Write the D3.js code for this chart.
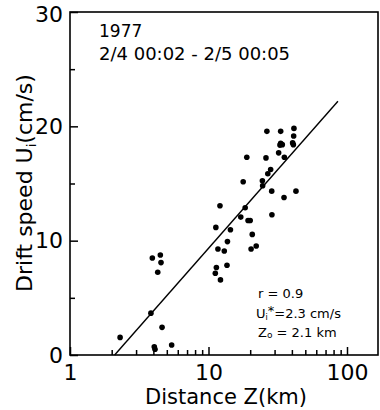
<!DOCTYPE html>
<html>
<head>
<meta charset="utf-8">
<script src="https://d3js.org/d3.v7.min.js"></script>
<style>
  body { margin: 0; background: #fff; }
  svg { display: block; font-family: "DejaVu Sans", sans-serif; }
</style>
</head>
<body>
<svg width="380" height="410"></svg>
<script>
// distance Z (km) and drift speed Ui (cm/s)
const distanceZ = [3.93, 4.49, 4.54, 4.30, 3.84, 4.62, 2.30, 5.42, 4.06, 4.11,
   12.1, 18.4, 17.1, 19.3, 20.0, 11.3, 14.4, 20.7, 13.7, 11.7,
   13.0, 20.3, 22.1, 11.4, 11.2, 12.2, 13.6, 26.4, 33.2, 41.4,
   41.2, 33.2, 34.1, 40.5, 41.0, 32.1, 35.3, 18.9, 26.0, 28.1,
   26.8, 17.8, 24.5, 24.6, 28.6, 42.8, 35.1, 28.7, 32.8];
const driftU = [8.49, 8.75, 8.08, 7.24, 3.66, 2.42, 1.54, 0.87, 0.72, 0.50,
   13.05, 12.88, 12.06, 11.77, 11.77, 11.16, 10.96, 10.55, 9.92, 9.27,
   9.10, 9.27, 9.53, 7.65, 7.15, 6.57, 7.85, 19.56, 19.56, 19.82,
   19.16, 18.51, 18.40, 18.55, 18.40, 17.68, 17.29, 17.29, 17.24, 16.22,
   15.85, 15.15, 15.24, 14.80, 14.33, 14.33, 13.78, 12.27, 18.36];

// fitted log profile (end points of the drawn line)
const fitZ = [2.1, 86];
const fitU = [0, 22.2];

const xMajor = [1, 10, 100];
const xMinor = [2, 3, 4, 5, 6, 7, 8, 9, 20, 30, 40, 50, 60, 70, 80, 90, 200];
const yMajor = [0, 10, 20, 30];
const yMinor = [5, 15, 25];

const svg = d3.select("svg");
const attr_area = { left: 70, right: 378, top: 12, bottom: 355 };

const scX = d3.scaleLog().domain([1, 100]).range([attr_area.left, 347]);
const scY = d3.scaleLinear().domain([0, 30]).range([attr_area.bottom, attr_area.top]);

// frame
svg.append("rect")
   .attr("x", attr_area.left)
   .attr("y", attr_area.top)
   .attr("width", attr_area.right - attr_area.left)
   .attr("height", attr_area.bottom - attr_area.top)
   .attr("fill", "none")
   .attr("stroke", "#000")
   .attr("stroke-width", 1.6);

function drawAxis(axis, transform, size) {
   const g = svg.append("g")
      .attr("transform", transform)
      .call(axis);
   g.select(".domain").remove();
   g.selectAll("line").attr("stroke-width", 1.5);
   g.selectAll("text")
      .attr("fill", "#000")
      .style("font-family", "'DejaVu Sans', sans-serif")
      .style("font-size", size + "px");
   return g;
}

// x axis: ticks point inward
drawAxis(d3.axisBottom(scX).tickValues(xMajor).tickSize(-8).tickPadding(9).tickFormat(d3.format("d")),
   `translate(0, ${attr_area.bottom})`, 22);
drawAxis(d3.axisBottom(scX).tickValues(xMinor).tickSize(-5).tickFormat(""),
   `translate(0, ${attr_area.bottom})`, 22);

// y axis
const gy = drawAxis(d3.axisLeft(scY).tickValues(yMajor).tickSize(-8).tickPadding(7),
   `translate(${attr_area.left}, 0)`, 22);
gy.selectAll("text").filter(d => d == 30).attr("dy", "0.42em");
drawAxis(d3.axisLeft(scY).tickValues(yMinor).tickSize(-5).tickFormat(""),
   `translate(${attr_area.left}, 0)`, 22);

// axis titles
svg.append("text")
   .attr("x", 226).attr("y", 404)
   .attr("text-anchor", "middle")
   .style("font-size", "21px")
   .text("Distance Z(km)");

const yt = svg.append("text")
   .attr("transform", "translate(32, 183) rotate(-90)")
   .attr("text-anchor", "middle")
   .style("font-size", "22px");
yt.append("tspan").text("Drift speed U");
yt.append("tspan").attr("dy", 4).style("font-size", "13px").text("i");
yt.append("tspan").attr("dy", -4).text("(cm/s)");

// fitted line
svg.append("line")
   .attr("x1", scX(fitZ[0])).attr("y1", scY(fitU[0]))
   .attr("x2", scX(fitZ[1])).attr("y2", scY(fitU[1]))
   .attr("stroke", "#000")
   .attr("stroke-width", 1.4);

// points
svg.selectAll(".dot")
   .data(distanceZ)
   .enter()
   .append("circle")
   .attr("class", "dot")
   .attr("cx", d => scX(d))
   .attr("cy", (d, i) => scY(driftU[i]))
   .attr("r", 2.8)
   .attr("fill", "#000");

// period label
svg.append("text")
   .attr("x", 99).attr("y", 37)
   .style("font-size", "17px")
   .text("1977");
svg.append("text")
   .attr("x", 99).attr("y", 60)
   .style("font-size", "18px")
   .text("2/4 00:02 - 2/5 00:05");

// fit parameters
svg.append("text")
   .attr("x", 258).attr("y", 298)
   .style("font-size", "13px")
   .text("r = 0.9");

const us = svg.append("text")
   .attr("x", 256).attr("y", 318)
   .style("font-size", "13px");
us.append("tspan").text("U");
us.append("tspan").attr("dy", 2).style("font-size", "8px").text("i");
us.append("tspan").attr("dy", -5).style("font-size", "13px").text("*");
us.append("tspan").attr("dy", 3).text("=2.3 cm/s");

const zo = svg.append("text")
   .attr("x", 258).attr("y", 337)
   .style("font-size", "13px");
zo.append("tspan").text("Z");
zo.append("tspan").attr("dy", 1).style("font-size", "9px").text("o");
zo.append("tspan").attr("dy", -1).text(" = 2.1 km");
</script>
</body>
</html>
